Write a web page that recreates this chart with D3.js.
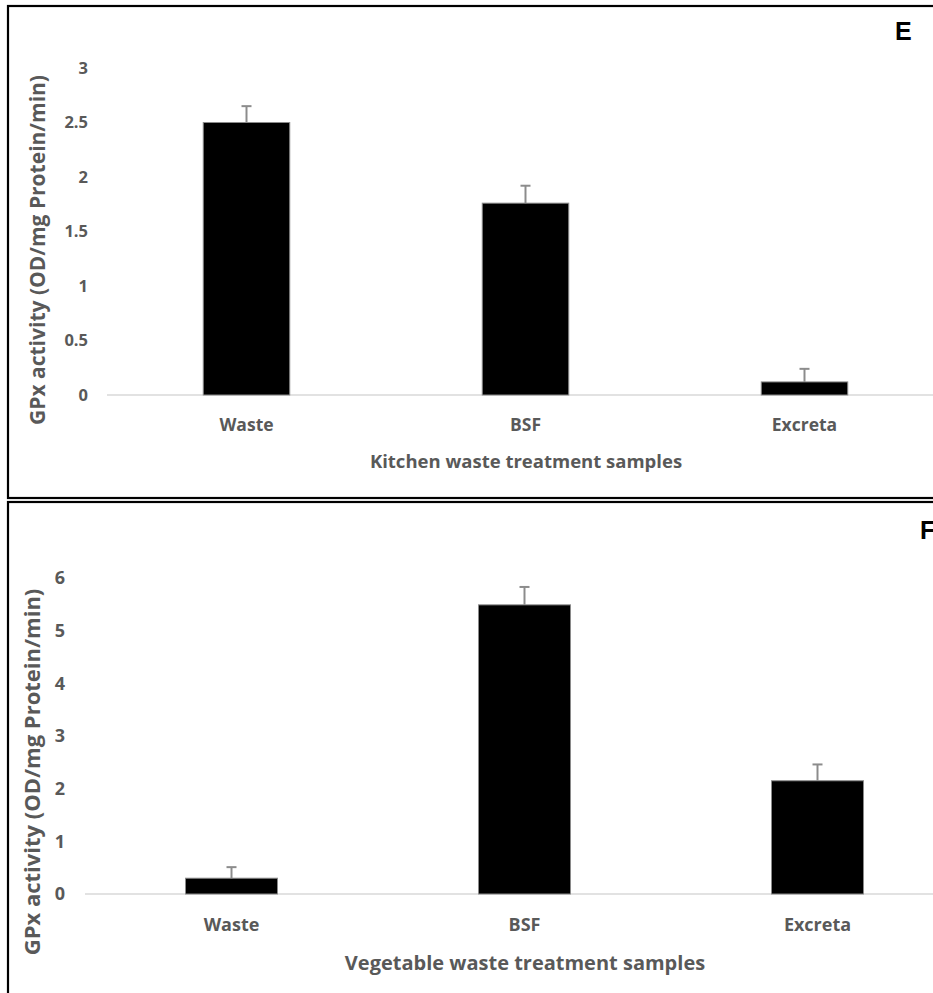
<!DOCTYPE html>
<html>
<head>
<meta charset="utf-8">
<script src="https://cdn.jsdelivr.net/npm/d3@7"></script>
<style>
body{margin:0;background:#fff;}
svg{display:block;}
text{font-family:"Open Sans",Lato,sans-serif;font-weight:bold;fill:#595959;}
</style>
</head>
<body>
<div id="chart"></div>
<script>
// data
const categories=["Waste","BSF","Excreta"];
const kitchenValues=[2.5,1.76,0.12];
const kitchenErrors=[0.15,0.16,0.12];
const kitchenTicks=[0,0.5,1,1.5,2,2.5,3];
const vegValues=[0.3,5.49,2.15];
const vegErrors=[0.21,0.34,0.31];
const vegTicks=[0,1,2,3,4,5,6];
const yTitle="GPx activity (OD/mg Protein/min)";

const width=933;
const height=993;

const svg=d3.select("#chart").append("svg")
    .attr("width",width)
    .attr("height",height);

function panel(opt){
    const g=svg.append("g");

    g.append("rect")
        .attr("x",opt.box[0])
        .attr("y",opt.box[1])
        .attr("width",opt.box[2])
        .attr("height",opt.box[3])
        .attr("fill","none")
        .attr("stroke","#000")
        .attr("stroke-width",2.2);

    const x=d3.scaleBand()
        .domain(categories)
        .range(opt.xRange)
        .paddingInner(opt.pad)
        .paddingOuter(opt.pad/2);

    const y=d3.scaleLinear()
        .domain([0,d3.max(opt.ticks)])
        .range(opt.yRange);

    const rows=categories.map((c,i)=>({cat:c,v:opt.values[i],e:opt.errors[i]}));

    // baseline
    g.append("line")
        .attr("x1",opt.xRange[0])
        .attr("x2",opt.xRange[1])
        .attr("y1",y(0))
        .attr("y2",y(0))
        .attr("stroke","#d9d9d9")
        .attr("stroke-width",1.5);

    // y axis: only labels, no line
    const yAxis=g.append("g")
        .attr("transform",`translate(${opt.tickX},0)`)
        .call(d3.axisLeft(y).tickValues(opt.ticks).tickSize(0).tickPadding(0).tickFormat(d=>d));
    yAxis.select(".domain").remove();
    yAxis.selectAll("text")
        .attr("font-size",opt.tickSize)
        .attr("fill","#595959")
        .style("font-family","'Open Sans',Lato,sans-serif");

    // x axis labels
    const xAxis=g.append("g")
        .attr("transform",`translate(0,${opt.catY})`)
        .call(d3.axisBottom(x).tickSize(0).tickPadding(0));
    xAxis.select(".domain").remove();
    xAxis.selectAll("text")
        .attr("dy","0.35em")
        .attr("font-size",opt.catSize)
        .attr("fill","#595959")
        .style("font-family","'Open Sans',Lato,sans-serif");

    g.selectAll(".bar")
        .data(rows)
        .join("rect")
        .attr("class","bar")
        .attr("x",d=>x(d.cat))
        .attr("y",d=>y(d.v))
        .attr("width",x.bandwidth())
        .attr("height",d=>y(0)-y(d.v))
        .attr("fill","#000")
        .attr("stroke","#8a8a8a")
        .attr("stroke-width",1);

    // error bars (upper only)
    const err=g.selectAll(".err")
        .data(rows)
        .join("g")
        .attr("class","err")
        .attr("stroke","#8c8c8c")
        .attr("stroke-width",2);
    err.append("line")
        .attr("x1",d=>x(d.cat)+x.bandwidth()/2)
        .attr("x2",d=>x(d.cat)+x.bandwidth()/2)
        .attr("y1",d=>y(d.v))
        .attr("y2",d=>y(d.v+d.e));
    err.append("line")
        .attr("x1",d=>x(d.cat)+x.bandwidth()/2-5)
        .attr("x2",d=>x(d.cat)+x.bandwidth()/2+5)
        .attr("y1",d=>y(d.v+d.e))
        .attr("y2",d=>y(d.v+d.e));

    g.append("text")
        .attr("x",opt.titleX)
        .attr("y",opt.titleY)
        .attr("dy","0.35em")
        .attr("text-anchor","middle")
        .attr("font-size",opt.titleSize)
        .text(opt.xTitle);

    g.append("text")
        .attr("transform",`translate(${opt.yTitlePos[0]},${opt.yTitlePos[1]}) rotate(-90)`)
        .attr("dy","0.35em")
        .attr("text-anchor","middle")
        .attr("font-size",opt.yTitleSize)
        .text(yTitle);

    g.append("text")
        .attr("x",opt.letterPos[0])
        .attr("y",opt.letterPos[1])
        .attr("dy","0.35em")
        .attr("text-anchor","start")
        .attr("font-size",25)
        .style("font-family","Arial,'Liberation Sans',sans-serif")
        .style("fill","#000")
        .text(opt.letter);
}

panel({
    box:[8,6,940,492],
    xRange:[107,944],
    yRange:[395,68],
    pad:0.69,
    values:kitchenValues,
    errors:kitchenErrors,
    ticks:kitchenTicks,
    tickX:88,
    tickSize:16.5,
    catY:425,
    catSize:17.5,
    titleX:526,
    titleY:462,
    titleSize:18.5,
    xTitle:"Kitchen waste treatment samples",
    yTitlePos:[38,250],
    yTitleSize:21,
    letter:"E",
    letterPos:[895,31]
});

panel({
    box:[8,502,940,500],
    xRange:[85,964],
    yRange:[894,578],
    pad:0.686,
    values:vegValues,
    errors:vegErrors,
    ticks:vegTicks,
    tickX:65,
    tickSize:18,
    catY:925,
    catSize:18,
    titleX:525,
    titleY:963,
    titleSize:20,
    xTitle:"Vegetable waste treatment samples",
    yTitlePos:[32,772],
    yTitleSize:22,
    letter:"F",
    letterPos:[920,530]
});
</script>
</body>
</html>
